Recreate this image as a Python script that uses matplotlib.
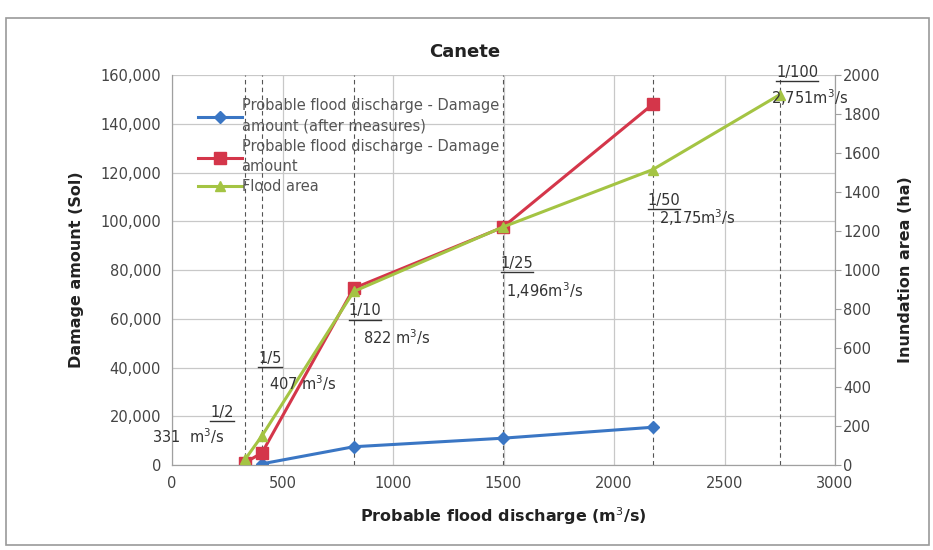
import matplotlib.pyplot as plt
from matplotlib.patches import Rectangle

# discharge (m3/s) for each return period
discharge = [331, 407, 822, 1496, 2175, 2751]
periods = ['1/2', '1/5', '1/10', '1/25', '1/50', '1/100']
q_labels = ['331  m$^3$/s', '407 m$^3$/s', '822 m$^3$/s', '1,496m$^3$/s', '2,175m$^3$/s', '2,751m$^3$/s']

# damage amount (Sol)
q_after = [407, 822, 1496, 2175]
damage_after = [500, 7500, 11000, 15500]
q_damage = [331, 407, 822, 1496, 2175]
damage = [1000, 5000, 72500, 97500, 148000]

# flood area (ha)
flood_area = [30, 150, 890, 1220, 1515, 1900]

c_blue = '#3a76c4'
c_red = '#d4364a'
c_green = '#a4c443'

fig = plt.figure(figsize=(9.33, 5.5), dpi=100)
ax = fig.add_axes([0.1844, 0.1545, 0.7106, 0.7091])
ax2 = ax.twinx()

# outer frame
fig.patches.append(Rectangle((0.006, 0.01), 0.99, 0.957, transform=fig.transFigure,
                             fill=False, edgecolor='#9a9a9a', lw=1.2))

ax.set_xlim(0, 3000)
ax.set_ylim(0, 160000)
ax2.set_ylim(0, 2000)
ax.set_xticks(range(0, 3001, 500))
ax.set_yticks(range(0, 160001, 20000))
ax2.set_yticks(range(0, 2001, 200))
ax.set_yticklabels(['{:,}'.format(v) for v in range(0, 160001, 20000)])

ax.grid(True, color='#c8c8c8', lw=0.9)
ax.set_axisbelow(True)
for q in discharge:
    ax.axvline(q, color='#555555', lw=0.8, ls=(0, (4, 3)), zorder=1)

for s in ['top']:
    ax.spines[s].set_visible(False)
    ax2.spines[s].set_visible(False)
for s in ['left', 'right', 'bottom']:
    ax2.spines[s].set_color('#a0a0a0')
    ax.spines[s].set_color('#a0a0a0')

ax.tick_params(axis='both', length=0, labelsize=10.5, colors='#444444', pad=8)
ax2.tick_params(axis='y', length=4, color='#a0a0a0', labelsize=10.5, labelcolor='#444444', pad=2)

l1, = ax.plot(q_after, damage_after, color=c_blue, lw=2.2, marker='D', ms=6, zorder=4,
              label='Probable flood discharge - Damage\namount (after measures)')
l2, = ax.plot(q_damage, damage, color=c_red, lw=2.2, marker='s', ms=9, zorder=4,
              label='Probable flood discharge - Damage\namount')
l3, = ax2.plot(discharge, flood_area, color=c_green, lw=2.2, marker='^', ms=7, zorder=5,
               label='Flood area')
ax.set_zorder(ax2.get_zorder() - 1)
ax.patch.set_visible(False)

leg = ax2.legend(handles=[l1, l2, l3], loc='upper left', bbox_to_anchor=(0.03, 0.955),
                 frameon=False, fontsize=10.5, handlelength=3.0, handletextpad=0.0,
                 labelspacing=0.35, borderaxespad=0)
for t in leg.get_texts():
    t.set_color('#555555')
    t.set_linespacing(1.45)

# return period annotations, pixel positions of the text centres
ann_pos = [(222, 412, 188, 436), (270, 358, 303, 383), (365, 311, 397, 337),
           (517, 263, 545, 291), (664, 200, 697, 218), (797, 72, 810, 98)]
period_texts = []
for (px, py, qx, qy), p, ql in zip(ann_pos, periods, q_labels):
    t = fig.text(px / 933, 1 - py / 550, p, fontsize=10.5, color='#333333',
                 ha='center', va='center')
    period_texts.append(t)
    fig.text(qx / 933, 1 - qy / 550, ql, fontsize=10.5, color='#333333', ha='center', va='center')

# underline each return period
fig.canvas.draw()
r = fig.canvas.get_renderer()
for t in period_texts:
    bb = t.get_window_extent(r)
    yl = (bb.y0 - 1) / 550
    fig.add_artist(plt.Line2D([bb.x0 / 933, bb.x1 / 933], [yl, yl],
                              transform=fig.transFigure, color='#333333', lw=1))

fig.text(465 / 933, 1 - 52 / 550, 'Canete', fontsize=13, fontweight='bold', ha='center',
         va='center', color='#222222')
ax.set_xlabel('Probable flood discharge (m$^3$/s)', fontsize=11.5, fontweight='bold',
              color='#222222', labelpad=10)
ax.set_ylabel('Damage amount (Sol)', fontsize=11.5, fontweight='bold', color='#222222',
              labelpad=12)
ax2.set_ylabel('Inundation area (ha)', fontsize=11.5, fontweight='bold', color='#222222',
               labelpad=12)

fig.savefig('out.png', dpi=100)
